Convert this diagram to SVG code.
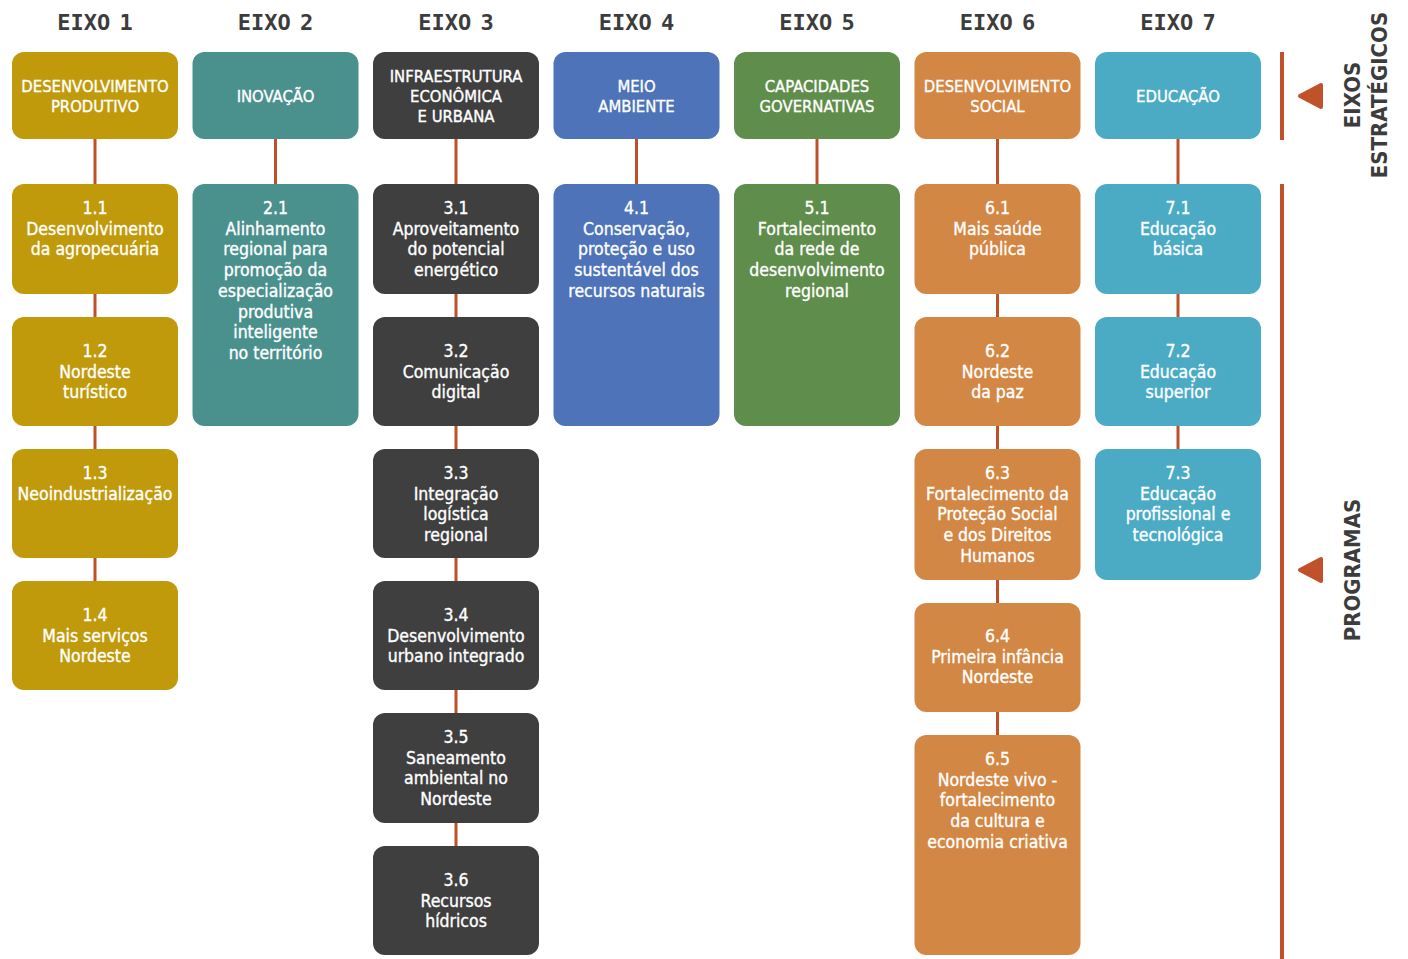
<svg xmlns="http://www.w3.org/2000/svg" width="1408" height="959" viewBox="0 0 1408 959">
<style>
.t{font-family:'DejaVu Sans Condensed','DejaVu Sans',sans-serif;font-stretch:condensed;fill:#ffffff;stroke:#ffffff;stroke-width:0.35;text-anchor:middle}
.h{font-size:16.5px}
.p{font-size:17.5px}
.eixo{font-family:'DejaVu Sans Mono',monospace;font-weight:bold;font-size:22px;fill:#3c3c3c;text-anchor:middle;word-spacing:-4px}
.side{font-family:'DejaVu Sans Condensed','DejaVu Sans',sans-serif;font-stretch:condensed;font-weight:bold;font-size:22px;fill:#3c3c3c;text-anchor:middle}
.c1{fill:#C09A0A}.c2{fill:#4A918E}.c3{fill:#3F3F3F}.c4{fill:#4E73B8}.c5{fill:#5F8D4B}.c6{fill:#D38744}.c7{fill:#4BABC5}
.ln{stroke:#BC5029;stroke-width:3;fill:none}
.bar{stroke:#C0522A;stroke-width:4;fill:none}
.tri{fill:#C0522A;stroke:#C0522A;stroke-width:4;stroke-linejoin:round}
</style>
<rect width="1408" height="959" fill="#ffffff"/>
<g id="titles">
<text class="eixo" x="95" y="30">EIXO 1</text>
<text class="eixo" x="275.5" y="30">EIXO 2</text>
<text class="eixo" x="456" y="30">EIXO 3</text>
<text class="eixo" x="636.5" y="30">EIXO 4</text>
<text class="eixo" x="817" y="30">EIXO 5</text>
<text class="eixo" x="997.5" y="30">EIXO 6</text>
<text class="eixo" x="1178" y="30">EIXO 7</text>
</g>
<g id="connectors">
<path class="ln" d="M95 139V184M95 294V317M95 426V449M95 558V581"/>
<path class="ln" d="M275.5 139V184"/>
<path class="ln" d="M456 139V184M456 294V317M456 426V449M456 558V581M456 690V713M456 823V846"/>
<path class="ln" d="M636.5 139V184"/>
<path class="ln" d="M817 139V184"/>
<path class="ln" d="M997.5 139V184M997.5 294V317M997.5 426V449M997.5 580V603M997.5 712V735"/>
<path class="ln" d="M1178 139V184M1178 294V317M1178 426V449"/>
</g>
<g id="legend">
<path class="bar" d="M1282 52V140M1282 184V959"/>
<polygon class="tri" points="1300,96 1321,85 1321,107"/>
<polygon class="tri" points="1300,570 1321,559 1321,581"/>
<text class="side" transform="translate(1360,95) rotate(-90)">EIXOS</text>
<text class="side" transform="translate(1387,95) rotate(-90)">ESTRATÉGICOS</text>
<text class="side" transform="translate(1360,570) rotate(-90)">PROGRAMAS</text>
</g>
<g id="eixo1">
<rect class="c1" x="12" y="52" width="166" height="87" rx="12"/>
<text class="t h"><tspan x="95" y="91.5">DESENVOLVIMENTO</tspan><tspan x="95" y="111.5">PRODUTIVO</tspan></text>
</g>
<g id="eixo2">
<rect class="c2" x="192.5" y="52" width="166" height="87" rx="12"/>
<text class="t h"><tspan x="275.5" y="101.5">INOVAÇÃO</tspan></text>
</g>
<g id="eixo3">
<rect class="c3" x="373" y="52" width="166" height="87" rx="12"/>
<text class="t h"><tspan x="456" y="81.5">INFRAESTRUTURA</tspan><tspan x="456" y="101.5">ECONÔMICA</tspan><tspan x="456" y="122">E URBANA</tspan></text>
</g>
<g id="eixo4">
<rect class="c4" x="553.5" y="52" width="166" height="87" rx="12"/>
<text class="t h"><tspan x="636.5" y="91.5">MEIO</tspan><tspan x="636.5" y="111.5">AMBIENTE</tspan></text>
</g>
<g id="eixo5">
<rect class="c5" x="734" y="52" width="166" height="87" rx="12"/>
<text class="t h"><tspan x="817" y="91.5">CAPACIDADES</tspan><tspan x="817" y="111.5">GOVERNATIVAS</tspan></text>
</g>
<g id="eixo6">
<rect class="c6" x="914.5" y="52" width="166" height="87" rx="12"/>
<text class="t h"><tspan x="997.5" y="91.5">DESENVOLVIMENTO</tspan><tspan x="997.5" y="111.5">SOCIAL</tspan></text>
</g>
<g id="eixo7">
<rect class="c7" x="1095" y="52" width="166" height="87" rx="12"/>
<text class="t h"><tspan x="1178" y="101.5">EDUCAÇÃO</tspan></text>
</g>
<g id="p1-1">
<rect class="c1" x="12" y="184" width="166" height="110" rx="12"/>
<text class="t p"><tspan x="95" y="214">1.1</tspan><tspan x="95" y="234.7">Desenvolvimento</tspan><tspan x="95" y="255.4">da agropecuária</tspan></text>
</g>
<g id="p1-2">
<rect class="c1" x="12" y="317" width="166" height="109" rx="12"/>
<text class="t p"><tspan x="95" y="357">1.2</tspan><tspan x="95" y="377.7">Nordeste</tspan><tspan x="95" y="398.4">turístico</tspan></text>
</g>
<g id="p1-3">
<rect class="c1" x="12" y="449" width="166" height="109" rx="12"/>
<text class="t p"><tspan x="95" y="479">1.3</tspan><tspan x="95" y="499.7">Neoindustrialização</tspan></text>
</g>
<g id="p1-4">
<rect class="c1" x="12" y="581" width="166" height="109" rx="12"/>
<text class="t p"><tspan x="95" y="621">1.4</tspan><tspan x="95" y="641.7">Mais serviços</tspan><tspan x="95" y="662.4">Nordeste</tspan></text>
</g>
<g id="p2-1">
<rect class="c2" x="192.5" y="184" width="166" height="242" rx="12"/>
<text class="t p"><tspan x="275.5" y="214">2.1</tspan><tspan x="275.5" y="234.7">Alinhamento</tspan><tspan x="275.5" y="255.4">regional para</tspan><tspan x="275.5" y="276.1">promoção da</tspan><tspan x="275.5" y="296.8">especialização</tspan><tspan x="275.5" y="317.5">produtiva</tspan><tspan x="275.5" y="338.2">inteligente</tspan><tspan x="275.5" y="358.9">no território</tspan></text>
</g>
<g id="p3-1">
<rect class="c3" x="373" y="184" width="166" height="110" rx="12"/>
<text class="t p"><tspan x="456" y="214">3.1</tspan><tspan x="456" y="234.7">Aproveitamento</tspan><tspan x="456" y="255.4">do potencial</tspan><tspan x="456" y="276.1">energético</tspan></text>
</g>
<g id="p3-2">
<rect class="c3" x="373" y="317" width="166" height="109" rx="12"/>
<text class="t p"><tspan x="456" y="357">3.2</tspan><tspan x="456" y="377.7">Comunicação</tspan><tspan x="456" y="398.4">digital</tspan></text>
</g>
<g id="p3-3">
<rect class="c3" x="373" y="449" width="166" height="109" rx="12"/>
<text class="t p"><tspan x="456" y="479">3.3</tspan><tspan x="456" y="499.7">Integração</tspan><tspan x="456" y="520.4">logística</tspan><tspan x="456" y="541.1">regional</tspan></text>
</g>
<g id="p3-4">
<rect class="c3" x="373" y="581" width="166" height="109" rx="12"/>
<text class="t p"><tspan x="456" y="621">3.4</tspan><tspan x="456" y="641.7">Desenvolvimento</tspan><tspan x="456" y="662.4">urbano integrado</tspan></text>
</g>
<g id="p3-5">
<rect class="c3" x="373" y="713" width="166" height="110" rx="12"/>
<text class="t p"><tspan x="456" y="743">3.5</tspan><tspan x="456" y="763.7">Saneamento</tspan><tspan x="456" y="784.4">ambiental no</tspan><tspan x="456" y="805.1">Nordeste</tspan></text>
</g>
<g id="p3-6">
<rect class="c3" x="373" y="846" width="166" height="109" rx="12"/>
<text class="t p"><tspan x="456" y="886">3.6</tspan><tspan x="456" y="906.7">Recursos</tspan><tspan x="456" y="927.4">hídricos</tspan></text>
</g>
<g id="p4-1">
<rect class="c4" x="553.5" y="184" width="166" height="242" rx="12"/>
<text class="t p"><tspan x="636.5" y="214">4.1</tspan><tspan x="636.5" y="234.7">Conservação,</tspan><tspan x="636.5" y="255.4">proteção e uso</tspan><tspan x="636.5" y="276.1">sustentável dos</tspan><tspan x="636.5" y="296.8">recursos naturais</tspan></text>
</g>
<g id="p5-1">
<rect class="c5" x="734" y="184" width="166" height="242" rx="12"/>
<text class="t p"><tspan x="817" y="214">5.1</tspan><tspan x="817" y="234.7">Fortalecimento</tspan><tspan x="817" y="255.4">da rede de</tspan><tspan x="817" y="276.1">desenvolvimento</tspan><tspan x="817" y="296.8">regional</tspan></text>
</g>
<g id="p6-1">
<rect class="c6" x="914.5" y="184" width="166" height="110" rx="12"/>
<text class="t p"><tspan x="997.5" y="214">6.1</tspan><tspan x="997.5" y="234.7">Mais saúde</tspan><tspan x="997.5" y="255.4">pública</tspan></text>
</g>
<g id="p6-2">
<rect class="c6" x="914.5" y="317" width="166" height="109" rx="12"/>
<text class="t p"><tspan x="997.5" y="357">6.2</tspan><tspan x="997.5" y="377.7">Nordeste</tspan><tspan x="997.5" y="398.4">da paz</tspan></text>
</g>
<g id="p6-3">
<rect class="c6" x="914.5" y="449" width="166" height="131" rx="12"/>
<text class="t p"><tspan x="997.5" y="479">6.3</tspan><tspan x="997.5" y="499.7">Fortalecimento da</tspan><tspan x="997.5" y="520.4">Proteção Social</tspan><tspan x="997.5" y="541.1">e dos Direitos</tspan><tspan x="997.5" y="561.8">Humanos</tspan></text>
</g>
<g id="p6-4">
<rect class="c6" x="914.5" y="603" width="166" height="109" rx="12"/>
<text class="t p"><tspan x="997.5" y="642">6.4</tspan><tspan x="997.5" y="662.7">Primeira infância</tspan><tspan x="997.5" y="683.4">Nordeste</tspan></text>
</g>
<g id="p6-5">
<rect class="c6" x="914.5" y="735" width="166" height="220" rx="12"/>
<text class="t p"><tspan x="997.5" y="765">6.5</tspan><tspan x="997.5" y="785.7">Nordeste vivo -</tspan><tspan x="997.5" y="806.4">fortalecimento</tspan><tspan x="997.5" y="827.1">da cultura e</tspan><tspan x="997.5" y="847.8">economia criativa</tspan></text>
</g>
<g id="p7-1">
<rect class="c7" x="1095" y="184" width="166" height="110" rx="12"/>
<text class="t p"><tspan x="1178" y="214">7.1</tspan><tspan x="1178" y="234.7">Educação</tspan><tspan x="1178" y="255.4">básica</tspan></text>
</g>
<g id="p7-2">
<rect class="c7" x="1095" y="317" width="166" height="109" rx="12"/>
<text class="t p"><tspan x="1178" y="357">7.2</tspan><tspan x="1178" y="377.7">Educação</tspan><tspan x="1178" y="398.4">superior</tspan></text>
</g>
<g id="p7-3">
<rect class="c7" x="1095" y="449" width="166" height="131" rx="12"/>
<text class="t p"><tspan x="1178" y="479">7.3</tspan><tspan x="1178" y="499.7">Educação</tspan><tspan x="1178" y="520.4">profissional e</tspan><tspan x="1178" y="541.1">tecnológica</tspan></text>
</g>
</svg>
